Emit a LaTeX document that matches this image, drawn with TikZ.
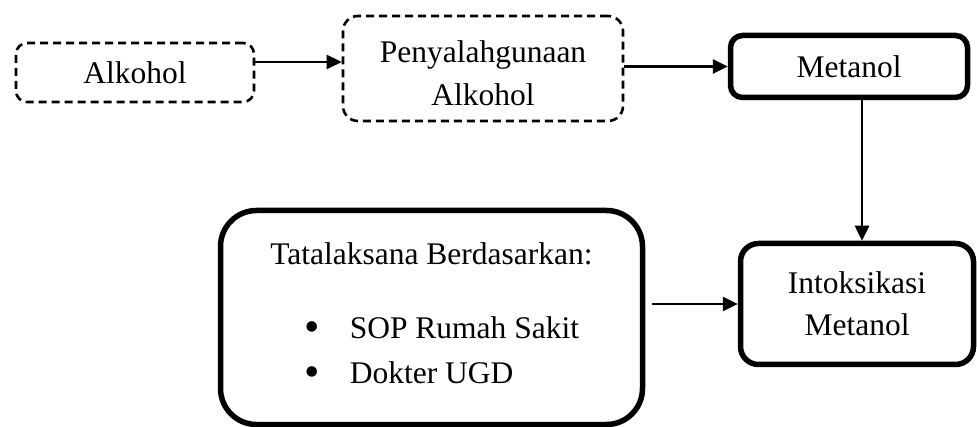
\documentclass[tikz,border=0pt]{standalone}
\usepackage{fontspec}
\setmainfont{Liberation Serif}
\usetikzlibrary{arrows.meta}
\newcommand{\bigbul}{{\fontsize{44}{42}\selectfont\raisebox{-3pt}{\textbullet}}}
\begin{document}
\begin{tikzpicture}[x=1pt,y=-1pt,
  font=\fontsize{31.5}{42}\selectfont,
  dbox/.style={draw, line width=2.6pt, dash pattern=on 8pt off 5pt, inner sep=0pt, align=center},
  tbox/.style={draw, line width=5.5pt, inner sep=0pt, align=center},
  arr/.style={-{Triangle[length=15pt,width=14pt]}, line width=2.6pt}]
\useasboundingbox (0,0) rectangle (977,427);
\node[dbox, rounded corners=11pt, minimum width=238pt, minimum height=59pt] (alk) at (135,72.5) {Alkohol};
\node[dbox, rounded corners=15pt, minimum width=280pt, minimum height=105pt] (pen) at (483,68.5) {\raisebox{0pt}[\dimexpr\height+9pt][\depth]{Penyalahgunaan}\\[1pt]Alkohol};
\node[tbox, rounded corners=12pt, minimum width=237pt, minimum height=62pt] (met) at (849,66.5) {Metanol};
\node[tbox, rounded corners=18pt, minimum width=233pt, minimum height=121pt] (intox) at (857,304) {Intoksikasi\\Metanol};
\node[tbox, rounded corners=36pt, minimum width=422pt, minimum height=214pt, align=left] (tata) at (431.5,317.5)
  {Tatalaksana Berdasarkan:\\[32pt]\hspace*{34pt}\bigbul\hspace{30pt}SOP Rumah Sakit\\[3pt]\hspace*{34pt}\bigbul\hspace{30pt}\raisebox{0pt}[\height][\dimexpr\depth+8pt]{Dokter UGD}};
\coordinate (a1) at (0,62);
\coordinate (vx) at (862,0);
\draw[arr] (alk.east |- a1) -- (pen.west |- a1);
\draw[arr] (pen.east |- met.west) -- (met.west);
\draw[arr] (met.south -| vx) -- (intox.north -| vx);
\draw[arr] ([xshift=6.5pt]tata.east |- intox.west) -- (intox.west);
\end{tikzpicture}
\end{document}
